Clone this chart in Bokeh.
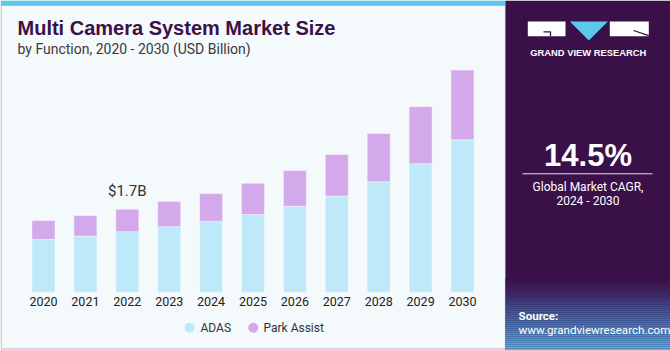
from bokeh.plotting import figure
from bokeh.models import Range1d, ColumnDataSource
from bokeh.core.properties import value
from bokeh.embed import file_html
from bokeh.resources import INLINE

# ---------------- data ----------------
years = [2020, 2021, 2022, 2023, 2024, 2025, 2026, 2027, 2028, 2029, 2030]
adas = [1.08, 1.15, 1.24, 1.34, 1.45, 1.59, 1.76, 1.97, 2.26, 2.63, 3.12]
park_assist = [0.39, 0.42, 0.46, 0.52, 0.57, 0.64, 0.73, 0.85, 0.99, 1.17, 1.43]
segments = ["ADAS", "Park Assist"]
segment_colors = ["#BEE9F8", "#D4A9EC"]
year_labels = [str(y) for y in years]
annot_year = 2022
annot_value = 1.70
annot_text = "$1.7B"
title_text = "Multi Camera System Market Size"
subtitle_text = "by Function, 2020 - 2030 (USD Billion)"
cagr_text = "14.5%"
cagr_caption = ["Global Market CAGR,", "2024 - 2030"]
brand_text = "GRAND VIEW RESEARCH"
source_lines = ["Source:", "www.grandviewresearch.com"]

BODY = "Roboto"
PURPLE = "#3A1049"
BLUE = "#5BC8EE"

p = figure(width=670, height=350,
           x_range=Range1d(2018.974, 2034.964),
           y_range=Range1d(-1.194, 5.974),
           x_axis_location=None, y_axis_location=None,
           toolbar_location=None, output_backend="svg",
           min_border=0, outline_line_color=None,
           background_fill_color="#F4F9FC", border_fill_color="#F4F9FC")
p.xgrid.visible = False
p.ygrid.visible = False
p.extra_x_ranges = {"px": Range1d(0, 670)}
p.extra_y_ranges = {"px": Range1d(350, 0)}
PX = dict(x_range_name="px", y_range_name="px")

# left panel border and top strip
p.quad(left=[0.8], right=[505], top=[5], bottom=[348.3], fill_color=None,
       line_color="#C4C8CC", line_width=1.2, **PX)
p.quad(left=[0], right=[505], top=[0], bottom=[5], fill_color=BLUE,
       line_color=None, **PX)

# right panel
p.quad(left=[505], right=[670], top=[0], bottom=[350], fill_color=PURPLE,
       line_color=None, **PX)
stops = [(278, (0x3A, 0x10, 0x49)), (292, (0x3A, 0x2A, 0x68)),
         (310, (0x3C, 0x58, 0x98)), (330, (0x45, 0x88, 0xC4)),
         (350, (0x55, 0xBA, 0xEA))]
g_top, g_bot, g_col = [], [], []
for (y0, c0), (y1, c1) in zip(stops[:-1], stops[1:]):
    y = y0
    while y < y1:
        t = (y - y0) / (y1 - y0)
        c = tuple(int(round(a + (b - a) * t)) for a, b in zip(c0, c1))
        g_top.append(y)
        g_bot.append(min(y + 2, y1))
        g_col.append("#%02X%02X%02X" % c)
        y += 2
p.quad(left=505, right=670, top=g_top, bottom=g_bot, fill_color=g_col,
       line_color=None, **PX)

# logo
p.quad(left=[527.3, 609.3], right=[565, 648.3], top=[21, 21], bottom=[35.7, 35.7],
       fill_color="white", line_color=None, **PX)
p.patch(x=[569.3, 607.3, 588.3], y=[21, 21, 40], fill_color=BLUE, line_color=None, **PX)
p.multi_line(xs=[[543, 550, 550], [633, 648.3]], ys=[[31.3, 31.3, 35.7], [30, 35.2]],
             line_color=PURPLE, line_width=1.3, **PX)
p.text(x=[587.8], y=[51.7], text=[brand_text], text_font=value("Liberation Sans"),
       text_font_style="bold", text_font_size="9.4px", text_color="white",
       text_align="center", text_baseline="middle", **PX)

# CAGR
p.text(x=[587.5], y=[154.7], text=[cagr_text], text_font=value("Liberation Sans"),
       text_font_style="bold", text_font_size="31px", text_color="white",
       text_align="center", text_baseline="middle", **PX)
p.segment(x0=[522], x1=[652], y0=[173.3], y1=[173.3], line_color="#E8E0EC",
          line_width=1, **PX)
p.text(x=[587.5, 587.5], y=[186, 200.6], text=cagr_caption, text_font=value(BODY),
       text_font_size="12px", text_color="white", text_align="center",
       text_baseline="middle", **PX)

# source
p.text(x=[518], y=[315.8], text=[source_lines[0]], text_font=value(BODY),
       text_font_style="bold", text_font_size="11.6px", text_color="white",
       text_align="left", text_baseline="middle", **PX)
p.text(x=[518], y=[329.3], text=[source_lines[1]], text_font=value(BODY),
       text_font_size="11.6px", text_color="white",
       text_align="left", text_baseline="middle", **PX)

# titles
p.text(x=[17], y=[27.9], text=[title_text], text_font=value("Liberation Sans"),
       text_font_style="bold", text_font_size="20px", text_color="#3B1148",
       text_align="left", text_baseline="middle", **PX)
p.text(x=[17], y=[48.3], text=[subtitle_text], text_font=value(BODY),
       text_font_size="14px", text_color="#3A3A3A",
       text_align="left", text_baseline="middle", **PX)

# bars
source = ColumnDataSource(dict(year=years, ADAS=adas, **{"Park Assist": park_assist}))
p.vbar_stack(segments, x="year", width=0.55, color=segment_colors, source=source,
             line_color="white", line_alpha=0.55, line_width=0.8)

# value annotation
p.text(x=[annot_year], y=[annot_value], text=[annot_text], y_offset=-17.9,
       text_font=value(BODY), text_font_size="15px", text_color="#333333",
       text_align="center", text_baseline="middle")

# year tick labels
p.text(x=years, y=301.3, text=year_labels, text_font=value(BODY),
       text_font_size="12.5px", text_color="#222222", text_align="center",
       text_baseline="middle", y_range_name="px")

# legend
p.scatter(x=[189, 252.7], y=[327.3, 327.3], size=10, marker="circle",
          fill_color=segment_colors, line_color=None, **PX)
p.text(x=[200, 263], y=[327.5, 327.5], text=segments, text_font=value(BODY),
       text_font_size="12px", text_color="#333333", text_align="left",
       text_baseline="middle", **PX)

open("out.html", "w").write(file_html(p, INLINE))
